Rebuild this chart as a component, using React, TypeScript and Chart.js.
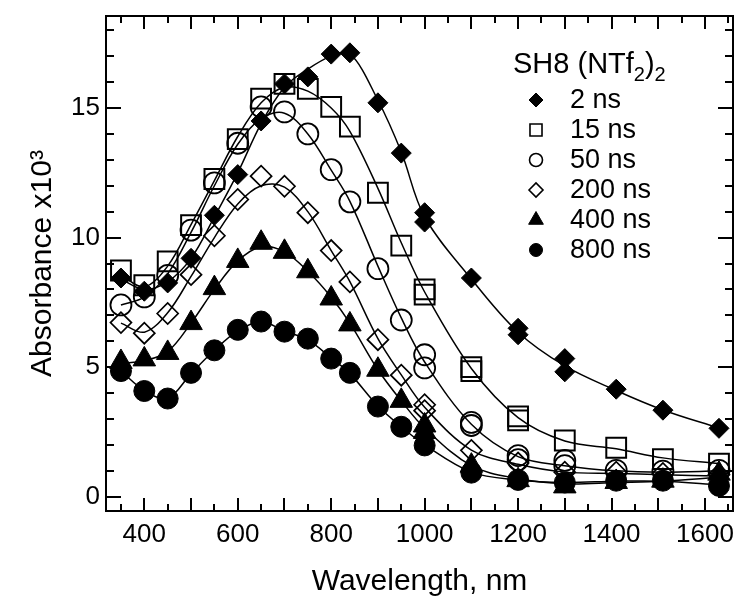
import React, { useEffect, useRef } from 'react';
import { Chart, registerables } from 'chart.js';
import { drawPoint } from 'chart.js/helpers';

Chart.register(...registerables);

const FONT = '"Liberation Sans", Arial, Helvetica, sans-serif';

// ---- Axis ticks ----
const xTickValues = [400, 600, 800, 1000, 1200, 1400, 1600];
const yTickValues = [0, 5, 10, 15];

// ---- Series labels ----
const seriesLabels = ['2 ns', '15 ns', '50 ns', '200 ns', '400 ns', '800 ns'];

// ---- Measured points (wavelength nm, absorbance x10^3) ----
const x2ns = [350, 400, 450, 500, 550, 600, 650, 700, 750, 800, 840, 900, 950, 1000, 1000, 1100, 1200, 1200, 1300, 1300, 1410, 1510, 1630];
const y2ns = [8.44, 7.93, 8.25, 9.2, 10.86, 12.43, 14.5, 15.93, 16.2, 17.08, 17.13, 15.2, 13.26, 10.96, 10.6, 8.44, 6.5, 6.25, 5.33, 4.82, 4.15, 3.34, 2.64];

const x15ns = [350, 400, 450, 500, 550, 600, 650, 700, 750, 800, 840, 900, 950, 1000, 1000, 1100, 1100, 1200, 1200, 1300, 1410, 1510, 1630];
const y15ns = [8.73, 8.16, 9.08, 10.48, 12.26, 13.8, 15.36, 15.93, 15.74, 15.04, 14.28, 11.73, 9.69, 8.0, 7.8, 5.0, 4.85, 3.1, 2.95, 2.17, 1.89, 1.45, 1.28];

const x50ns = [350, 400, 450, 500, 550, 600, 650, 700, 750, 800, 840, 900, 950, 1000, 1000, 1100, 1100, 1200, 1200, 1300, 1300, 1410, 1510, 1630];
const y50ns = [7.4, 7.71, 8.54, 10.29, 12.11, 13.64, 15.04, 14.85, 14.0, 12.62, 11.38, 8.8, 6.82, 5.48, 4.97, 2.87, 2.75, 1.59, 1.43, 1.4, 1.2, 1.02, 0.99, 1.02];

const x200ns = [350, 400, 450, 500, 550, 600, 650, 700, 750, 800, 840, 900, 950, 1000, 1000, 1100, 1200, 1300, 1410, 1510, 1630];
const y200ns = [6.72, 6.31, 7.07, 8.57, 10.07, 11.47, 12.37, 11.98, 10.96, 9.5, 8.29, 6.06, 4.69, 3.55, 3.32, 1.79, 1.3, 0.95, 0.95, 0.9, 0.85];

const x400ns = [350, 400, 450, 500, 550, 600, 650, 700, 750, 800, 840, 900, 950, 1000, 1000, 1100, 1200, 1300, 1410, 1510, 1630];
const y400ns = [5.2, 5.3, 5.55, 6.7, 8.05, 9.1, 9.8, 9.45, 8.7, 7.65, 6.65, 4.9, 3.7, 2.75, 2.5, 1.2, 0.64, 0.4, 0.57, 0.62, 0.89];

const x800ns = [350, 400, 450, 500, 550, 600, 650, 700, 750, 800, 840, 900, 950, 1000, 1100, 1200, 1300, 1410, 1510, 1630];
const y800ns = [4.85, 4.08, 3.79, 4.78, 5.65, 6.44, 6.76, 6.37, 6.1, 5.33, 4.78, 3.48, 2.7, 1.98, 0.93, 0.65, 0.55, 0.62, 0.62, 0.42];

// ---- Fitted curves at these wavelengths ----
const fitX = [350, 400, 450, 500, 550, 600, 650, 700, 750, 800, 840, 900, 950, 1000, 1100, 1200, 1300, 1410, 1510, 1630];
const fit2ns = [8.4, 8.0, 8.3, 9.2, 10.8, 12.5, 14.4, 15.8, 16.5, 17.0, 17.1, 15.3, 13.3, 10.8, 8.4, 6.35, 5.05, 4.1, 3.35, 2.65];
const fit15ns = [8.55, 8.1, 8.9, 10.5, 12.2, 13.9, 15.2, 15.8, 15.65, 15.0, 14.1, 11.9, 9.8, 7.9, 4.95, 3.05, 2.15, 1.85, 1.5, 1.28];
const fit50ns = [7.4, 7.7, 8.6, 10.2, 12.0, 13.6, 14.6, 14.8, 14.0, 12.6, 11.4, 8.9, 6.9, 5.2, 2.8, 1.55, 1.2, 1.0, 0.95, 1.0];
const fit200ns = [6.7, 6.35, 7.1, 8.5, 10.0, 11.3, 12.0, 11.95, 11.0, 9.5, 8.3, 6.1, 4.7, 3.45, 1.8, 1.25, 0.95, 0.9, 0.85, 0.8];
const fit400ns = [5.15, 5.25, 5.6, 6.7, 8.0, 9.1, 9.65, 9.45, 8.7, 7.7, 6.7, 4.9, 3.7, 2.65, 1.2, 0.7, 0.5, 0.55, 0.6, 0.75];
const fit800ns = [4.85, 4.1, 3.8, 4.75, 5.65, 6.4, 6.75, 6.4, 6.05, 5.35, 4.75, 3.5, 2.7, 2.0, 0.95, 0.65, 0.55, 0.6, 0.6, 0.45];

const measuredX = [x2ns, x15ns, x50ns, x200ns, x400ns, x800ns];
const measuredY = [y2ns, y15ns, y50ns, y200ns, y400ns, y800ns];
const fitY = [fit2ns, fit15ns, fit50ns, fit200ns, fit400ns, fit800ns];

// ---- Marker styles ----
const markerStyles = [
  { pointStyle: 'rectRot', radius: 10, filled: true, border: 1, legendRadius: 7 },
  { pointStyle: 'rect', radius: 14, filled: false, border: 2, legendRadius: 8.5 },
  { pointStyle: 'circle', radius: 10.5, filled: false, border: 1.8, legendRadius: 6.5 },
  { pointStyle: 'rectRot', radius: 10.5, filled: false, border: 1.7, legendRadius: 7 },
  { pointStyle: 'triangle', radius: 13, filled: true, border: 1, legendRadius: 8.5 },
  { pointStyle: 'circle', radius: 10.5, filled: true, border: 1, legendRadius: 6.5 },
];

const frameTicksPlugin = {
  id: 'frameTicks',
  afterDatasetsDraw(chart: any) {
    const { ctx, chartArea: a, scales } = chart;
    const xs = scales.x;
    const ys = scales.y;
    ctx.save();
    ctx.strokeStyle = '#000';
    ctx.lineWidth = 2;
    ctx.beginPath();
    for (let v = 350; v <= xs.max; v += 50) {
      const px = Math.round(xs.getPixelForValue(v));
      const len = v % 100 === 0 ? 13 : 7;
      ctx.moveTo(px, a.bottom);
      ctx.lineTo(px, a.bottom - len);
      ctx.moveTo(px, a.top);
      ctx.lineTo(px, a.top + len);
    }
    for (let v = 0; v <= ys.max; v += 1) {
      const py = Math.round(ys.getPixelForValue(v));
      const len = v % 5 === 0 ? 15 : 8;
      ctx.moveTo(a.left, py);
      ctx.lineTo(a.left + len, py);
      ctx.moveTo(a.right, py);
      ctx.lineTo(a.right - len, py);
    }
    ctx.stroke();
    ctx.strokeRect(a.left, a.top, a.right - a.left, a.bottom - a.top);
    ctx.restore();
  },
};

const legendPlugin = {
  id: 'innerLegend',
  afterDraw(chart: any) {
    const { ctx, chartArea: a } = chart;
    ctx.save();
    ctx.fillStyle = '#000';
    ctx.textAlign = 'left';
    ctx.textBaseline = 'alphabetic';
    // Title: SH8 (NTf2)2
    const tx0 = a.right - 220;
    const tBase = a.top + 57;
    const big = `29px ${FONT}`;
    const small = `20px ${FONT}`;
    let tx = tx0;
    const parts: [string, string, number][] = [
      ['SH8 (NTf', big, 0],
      ['2', small, 8],
      [')', big, 0],
      ['2', small, 8],
    ];
    for (const [t, f, dy] of parts) {
      ctx.font = f;
      ctx.fillText(t, tx, tBase + dy);
      tx += ctx.measureText(t).width;
    }
    // entries
    ctx.font = `27px ${FONT}`;
    ctx.textBaseline = 'middle';
    const mx = a.right - 197;
    const textX = a.right - 163;
    const rowY0 = a.top + 84;
    const rowStep = 30;
    seriesLabels.forEach((label, i) => {
      const s = markerStyles[i];
      const cy = rowY0 + i * rowStep;
      ctx.fillStyle = s.filled ? '#000' : 'rgba(0,0,0,0)';
      ctx.strokeStyle = '#000';
      ctx.lineWidth = s.filled ? 1 : 1.6;
      drawPoint(ctx, { pointStyle: s.pointStyle as any, radius: s.legendRadius, rotation: 0, borderWidth: ctx.lineWidth }, mx, cy);
      ctx.fillStyle = '#000';
      ctx.fillText(label, textX, cy + 1);
    });
    ctx.restore();
  },
};

export default function App() {
  const canvasRef = useRef<HTMLCanvasElement | null>(null);

  useEffect(() => {
    if (!canvasRef.current) return;
    const datasets: any[] = [];
    // measured points (drawn on top)
    seriesLabels.forEach((label, i) => {
      const s = markerStyles[i];
      datasets.push({
        label,
        data: measuredX[i].map((x, k) => ({ x, y: measuredY[i][k] })),
        showLine: false,
        pointStyle: s.pointStyle,
        pointRadius: s.radius,
        pointHoverRadius: s.radius,
        pointBackgroundColor: s.filled ? '#000' : 'rgba(0,0,0,0)',
        pointBorderColor: '#000',
        pointBorderWidth: s.border,
        order: 0,
      });
    });
    // fitted curves (drawn underneath)
    seriesLabels.forEach((label, i) => {
      datasets.push({
        label: label + ' fit',
        data: fitX.map((x, k) => ({ x, y: fitY[i][k] })),
        showLine: true,
        pointRadius: 0,
        pointHoverRadius: 0,
        borderColor: '#000',
        borderWidth: 1.5,
        backgroundColor: 'rgba(0,0,0,0)',
        tension: 0.35,
        fill: false,
        order: 1,
      });
    });

    const chart = new Chart(canvasRef.current, {
      type: 'scatter',
      data: { datasets },
      options: {
        animation: false,
        responsive: false,
        maintainAspectRatio: false,
        events: [],
        layout: { padding: { top: 12, right: 4, left: 0, bottom: 0 } },
        plugins: {
          legend: { display: false },
          tooltip: { enabled: false },
        },
        scales: {
          x: {
            type: 'linear',
            min: 318,
            max: 1660,
            grid: { display: false, drawTicks: false },
            border: { display: false },
            afterBuildTicks: (s: any) => {
              s.ticks = xTickValues.map((v) => ({ value: v }));
            },
            afterFit: (s: any) => {
              s.height = 87;
              s.paddingLeft = 0;
              s.paddingRight = 0;
            },
            ticks: {
              color: '#000',
              font: { size: 26, family: FONT },
              padding: 8,
              maxRotation: 0,
              autoSkip: false,
              callback: (v: any) => String(v),
            },
            title: {
              display: true,
              text: 'Wavelength, nm',
              color: '#000',
              font: { size: 30, family: FONT, lineHeight: 1 },
              padding: { top: 0, bottom: 1 },
            },
          },
          y: {
            type: 'linear',
            min: -0.55,
            max: 18.55,
            grid: { display: false, drawTicks: false },
            border: { display: false },
            afterBuildTicks: (s: any) => {
              s.ticks = yTickValues.map((v) => ({ value: v }));
            },
            afterFit: (s: any) => {
              s.width = 106;
              s.paddingTop = 0;
              s.paddingBottom = 0;
            },
            ticks: {
              color: '#000',
              font: { size: 26, family: FONT },
              padding: 6,
              autoSkip: false,
              callback: (v: any) => String(v),
            },
            title: {
              display: true,
              text: 'Absorbance x10³',
              color: '#000',
              font: { size: 30, family: FONT, lineHeight: 1 },
              padding: { top: 28, bottom: 0 },
            },
          },
        },
      },
      plugins: [frameTicksPlugin, legendPlugin],
    } as any);
    return () => chart.destroy();
  }, []);

  return (
    <div style={{ position: 'fixed', left: 0, top: 0, width: 749, height: 598, background: '#fff' }}>
      <canvas ref={canvasRef} width={749} height={598} style={{ display: 'block' }} />
    </div>
  );
}
